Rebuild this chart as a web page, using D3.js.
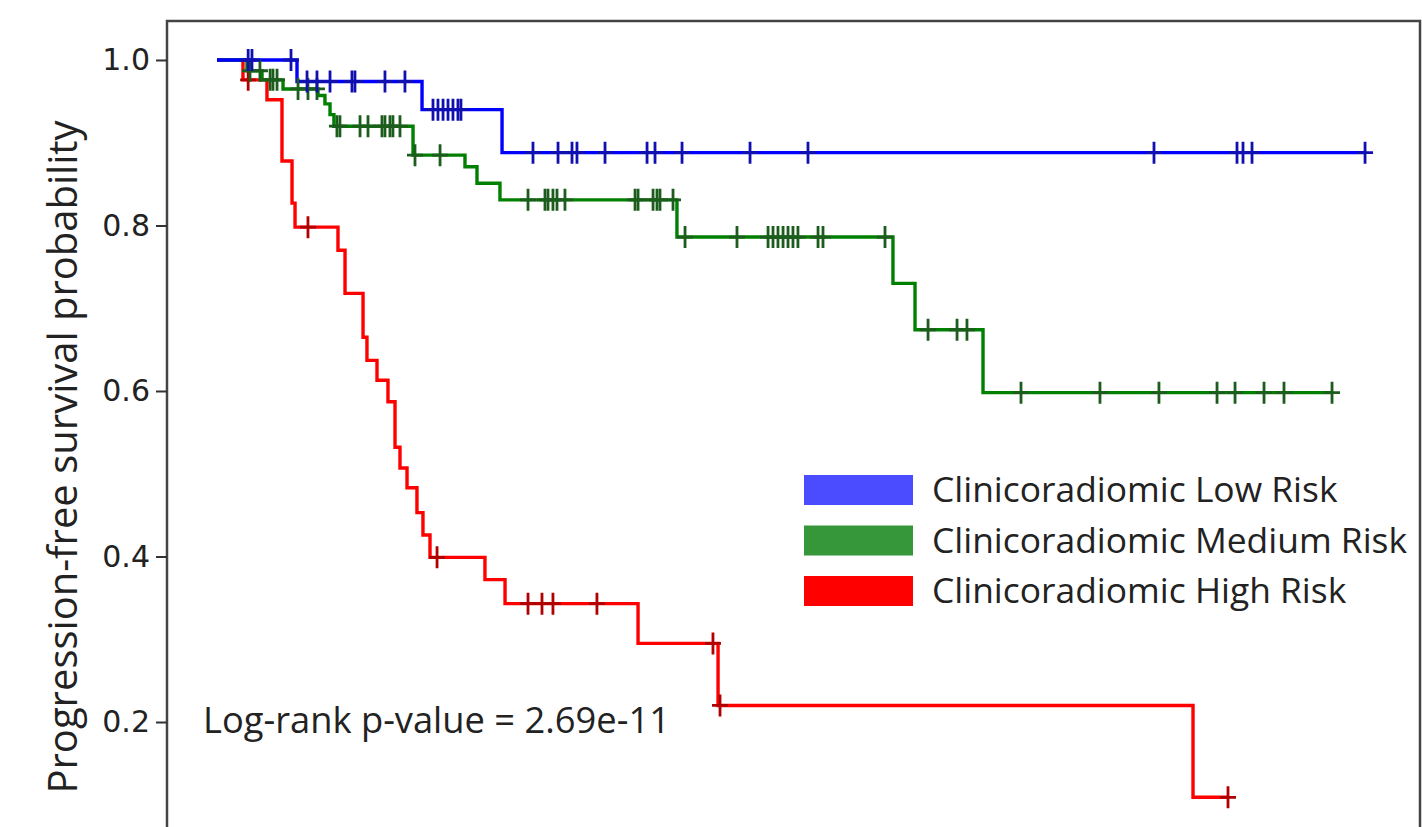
<!DOCTYPE html>
<html><head><meta charset="utf-8">
<script src="https://cdn.jsdelivr.net/npm/d3@7"></script>
<style>body{margin:0;background:#fff;overflow:hidden} svg{display:block}</style>
</head><body>
<svg id="c" width="1422" height="827"></svg>
<script>
// ---- data (time in months, survival probability) ----
const groupNames = ["Clinicoradiomic Low Risk", "Clinicoradiomic Medium Risk", "Clinicoradiomic High Risk"];

const lowTimes = [6.93, 17.76, 24.69];
const lowSurv  = [0.974, 0.940, 0.888];
const lowEnd = 99.44;
const lowCensor = [2.7, 3.03, 6.41, 7.8, 8.66, 9.79, 11.69, 11.95, 14.55, 16.28, 18.71, 19.14, 19.58, 20.01, 20.44,
  20.87, 21.13, 27.37, 29.54, 30.75, 31.18, 33.61, 37.25, 37.94, 40.28, 46.17, 51.19, 81.16, 88.35, 88.87, 89.65, 99.44];

const medTimes = [2.6, 3.9, 5.72, 8.75, 9.35, 9.79, 10.13, 16.98, 21.48, 22.52, 24.51, 39.84, 58.55, 60.46, 66.35];
const medSurv  = [0.987, 0.976, 0.965, 0.957, 0.947, 0.934, 0.920, 0.885, 0.871, 0.851, 0.831, 0.786, 0.730, 0.674, 0.598];
const medEnd = 96.58;
const medCensor = [2.86, 3.72, 4.6, 4.85, 5.2, 7.02, 7.88, 8.66, 10.39, 10.65, 12.39, 13.08, 14.29, 14.55, 14.98, 15.24,
  15.85, 17.15, 19.32, 26.94, 28.41, 28.67, 29.1, 29.45, 30.14, 36.21, 36.47, 37.77, 38.11, 38.37, 39.5, 40.54, 45.04,
  47.73, 48.16, 48.59, 49.03, 49.46, 49.89, 50.32, 52.06, 52.49, 57.86, 61.59, 64.1, 64.96, 69.64, 76.48, 81.59, 86.62,
  88.18, 90.69, 92.42, 96.58];

const highTimes = [2.25, 4.33, 5.63, 6.5, 6.76, 10.48, 11.09, 12.65, 12.99, 13.86, 14.81, 15.42, 15.85, 16.46, 17.32,
  17.84, 18.45, 23.21, 24.95, 36.47, 43.4, 84.54];
const highSurv  = [0.976, 0.952, 0.878, 0.827, 0.798, 0.770, 0.718, 0.665, 0.637, 0.613, 0.587, 0.532, 0.507, 0.483,
  0.453, 0.426, 0.399, 0.372, 0.343, 0.295, 0.220, 0.109];
const highEnd = 87.57;
const highCensor = [2.7, 7.88, 19.06, 26.94, 28.15, 29.1, 32.91, 42.96, 43.57, 87.57];

const yTickValues = [0.2, 0.4, 0.6, 0.8, 1.0];
const yTickLabels = ["0.2", "0.4", "0.6", "0.8", "1.0"];
const lineColors = ["#0000ff", "#008000", "#ff0000"];
const markColors = ["#1010b0", "#1c5c1c", "#b00000"];
const legendColors = ["#4b4bff", "#35963a", "#ff0000"];
const yLabel = "Progression-free survival probability";
const pText = "Log-rank p-value = 2.69e-11";

// ---- layout ----
const svg = d3.select("#c");
const L = 167, R = 1420, T = 21, B = 842;
const x = d3.scaleLinear().domain([-4.33, 104.2]).range([L, R]);
const y = d3.scaleLinear().domain([0.055, 1.0471]).range([B, T]);

const groups = [
  {times: lowTimes, surv: lowSurv, end: lowEnd, cens: lowCensor},
  {times: medTimes, surv: medSurv, end: medEnd, cens: medCensor},
  {times: highTimes, surv: highSurv, end: highEnd, cens: highCensor}
];
function survAt(g, t) { let s = 1; g.times.forEach((tt, i) => { if (tt <= t) s = g.surv[i]; }); return s; }

const line = d3.line().x(d => x(d[0])).y(d => y(d[1])).curve(d3.curveStepAfter);

const plot = svg.append("g");
[2, 1, 0].forEach(i => {
  const g = groups[i];
  const pts = [[0, 1]].concat(g.times.map((t, k) => [t, g.surv[k]])).concat([[g.end, g.surv[g.surv.length - 1]]]);
  plot.append("path").attr("d", line(pts)).attr("fill", "none")
    .attr("stroke", lineColors[i]).attr("stroke-width", 3.4);
});
[2, 1, 0].forEach(i => {
  const g = groups[i];
  plot.selectAll(null).data(g.cens).enter().append("path")
    .attr("transform", t => `translate(${x(t)},${y(survAt(g, t))})`)
    .attr("d", "M-8,0H8M0,-11V11")
    .attr("stroke", markColors[i]).attr("stroke-width", 2.8).attr("fill", "none");
});

// frame
svg.append("rect").attr("x", L).attr("y", T).attr("width", R - L).attr("height", B - T)
  .attr("fill", "none").attr("stroke", "#444").attr("stroke-width", 2.5);

// y axis
const yAxis = d3.axisLeft(y).tickValues(yTickValues).tickFormat((d, i) => yTickLabels[i]).tickSize(11).tickPadding(6);
const ga = svg.append("g").attr("transform", `translate(${L},0)`).call(yAxis);
ga.select(".domain").remove();
ga.selectAll(".tick line").attr("stroke", "#333").attr("stroke-width", 2);
ga.selectAll(".tick text").attr("font-family", "DejaVu Sans").attr("font-size", 30).attr("fill", "#222");

svg.append("text").attr("transform", "translate(77,457) rotate(-90)")
  .attr("text-anchor", "middle").attr("font-family", "Open Sans").attr("font-size", 40).attr("fill", "#222")
  .text(yLabel);

// p-value
svg.append("text").attr("x", 203).attr("y", 733).attr("font-family", "Open Sans").attr("font-size", 36.3)
  .attr("fill", "#222").text(pText);

// legend
const lg = svg.append("g");
groupNames.forEach((n, i) => {
  const cy = 490 + i * 50.5;
  lg.append("rect").attr("x", 804).attr("y", cy - 15).attr("width", 109).attr("height", 30).attr("fill", legendColors[i]);
  lg.append("text").attr("x", 932).attr("y", cy + 12).attr("font-family", "Open Sans").attr("font-size", 35.4)
    .attr("fill", "#222").text(n);
});
</script>
</body></html>
